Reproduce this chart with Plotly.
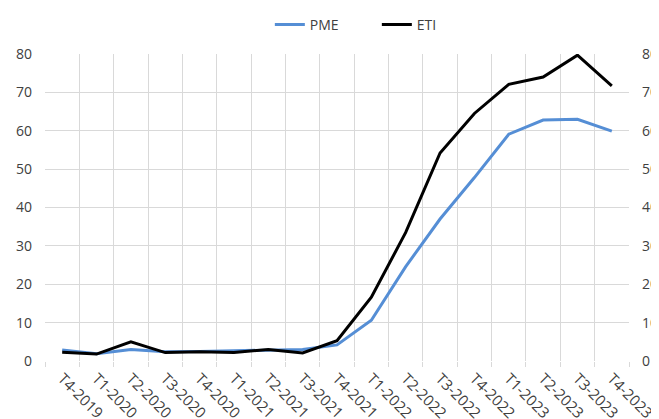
import plotly.graph_objects as go

categories = ["T4-2019", "T1-2020", "T2-2020", "T3-2020", "T4-2020", "T1-2021",
              "T2-2021", "T3-2021", "T4-2021", "T1-2022", "T2-2022", "T3-2022",
              "T4-2022", "T1-2023", "T2-2023", "T3-2023", "T4-2023"]
pme = [2.9, 1.9, 3.0, 2.4, 2.5, 2.6, 2.8, 3.0, 4.2, 10.6, 24.6, 37.0, 47.8, 59.1, 62.8, 63.0, 59.9]
eti = [2.3, 1.8, 5.0, 2.2, 2.4, 2.2, 3.0, 2.1, 5.3, 16.6, 33.5, 54.2, 64.5, 72.1, 74.0, 79.7, 71.7]
y_ticks = [0, 10, 20, 30, 40, 50, 60, 70, 80]

FONT = "Open Sans"
TXT = "#404040"
GRID = "#D9D9D9"

fig = go.Figure()
fig.add_trace(go.Scatter(x=categories, y=pme, name="PME", mode="lines",
                         line=dict(color="#558ED5", width=3)))
fig.add_trace(go.Scatter(x=categories, y=eti, name="ETI", mode="lines",
                         line=dict(color="#000000", width=3), yaxis="y2"))

fig.update_layout(
    width=659, height=419,
    margin=dict(l=37, r=38, t=46, b=66, autoexpand=False),
    paper_bgcolor="white", plot_bgcolor="white",
    font=dict(family=FONT, size=14, color=TXT),
    showlegend=True,
    legend=dict(orientation="h", x=0.385, xanchor="left", y=0.998, yanchor="top",
                yref="container", font=dict(size=14, color=TXT),
                entrywidth=62, entrywidthmode="pixels", bgcolor="rgba(0,0,0,0)"),
    xaxis=dict(type="category", tickson="boundaries", ticks="outside", ticklen=5,
               tickcolor=GRID, tickwidth=1, showgrid=True, gridcolor=GRID, gridwidth=1,
               tickangle=45, range=[-0.5, 16.5], automargin=False, showline=False,
               zeroline=False, tickfont=dict(size=15, color=TXT), ticklabelstandoff=5),
    yaxis=dict(range=[0, 80], tickvals=y_ticks, showgrid=True, gridcolor=GRID,
               gridwidth=1, zeroline=False, showline=False, ticks="",
               ticklabelstandoff=12, automargin=False),
    yaxis2=dict(range=[0, 80], tickvals=y_ticks, overlaying="y", side="right",
                showgrid=False, zeroline=False, showline=False, ticks="",
                ticklabelstandoff=12, automargin=False,
                tickfont=dict(color=TXT)),
)

fig.write_html("out.html")
